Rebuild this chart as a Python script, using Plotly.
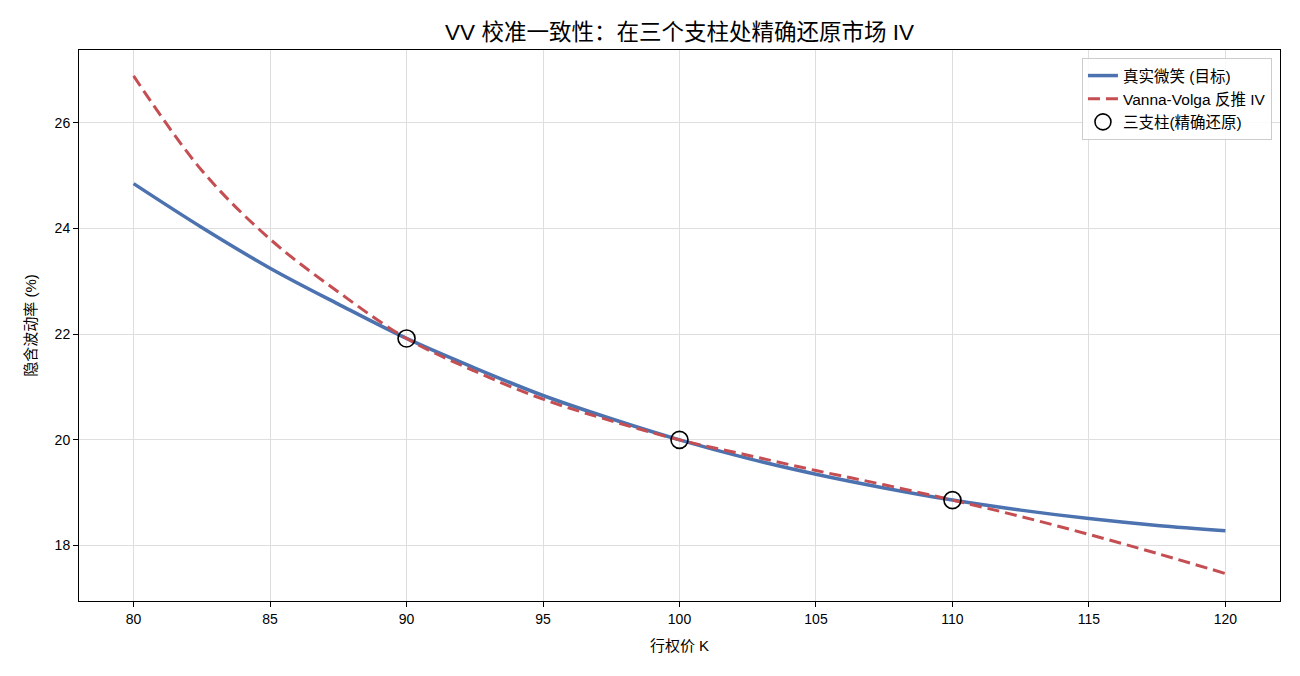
import plotly.graph_objects as go

strikes = [80, 82.5, 85, 87.5, 90, 92.5, 95, 97.5, 100, 102.5, 105, 107.5, 110, 112.5, 115, 117.5, 120]
true_smile = [24.85, 24.02, 23.25, 22.57, 21.92, 21.36, 20.84, 20.40, 20.0, 19.65, 19.35, 19.09, 18.86, 18.67, 18.51, 18.38, 18.28]
vv_iv = [26.89, 25.10, 23.80, 22.80, 21.92, 21.30, 20.77, 20.36, 20.0, 19.71, 19.42, 19.15, 18.86, 18.55, 18.21, 17.85, 17.47]
pillar_k = [90, 100, 110]
pillar_iv = [21.92, 20.0, 18.86]

FONT = "Liberation Sans, Arial, Noto Sans CJK SC, sans-serif"

fig = go.Figure()
fig.add_trace(go.Scatter(x=strikes, y=true_smile, mode="lines", name="真实微笑 (目标)",
                         line=dict(color="#4C72B0", width=3.5, shape="spline", smoothing=1.0)))
fig.add_trace(go.Scatter(x=strikes, y=vv_iv, mode="lines", name="Vanna-Volga 反推 IV",
                         line=dict(color="#C44E52", width=3, dash="12px,6px", shape="spline", smoothing=1.0)))
fig.add_trace(go.Scatter(x=pillar_k, y=pillar_iv, mode="markers", name="三支柱(精确还原)",
                         marker=dict(symbol="circle-open", size=17, color="black",
                                     line=dict(color="black", width=1.6))))

axis_common = dict(showline=True, linecolor="black", linewidth=1, mirror=True,
                   ticks="outside", ticklen=5, tickcolor="black", tickwidth=1,
                   showgrid=True, gridcolor="#dedede", gridwidth=1, zeroline=False,
                   tickfont=dict(size=14, color="black", family=FONT))

fig.update_layout(
    width=1300, height=676,
    paper_bgcolor="white", plot_bgcolor="white",
    margin=dict(l=79, r=20, t=50, b=75),
    font=dict(family=FONT, color="black"),
    title=dict(text="VV 校准一致性：在三个支柱处精确还原市场 IV", x=0.5227, xanchor="center",
               y=0.953, yanchor="middle", font=dict(size=22.5, color="black", family=FONT)),
    xaxis=dict(range=[78, 122], tickvals=[80, 85, 90, 95, 100, 105, 110, 115, 120],
               title=dict(text="行权价 K", font=dict(size=15, family=FONT), standoff=14),
               **axis_common),
    yaxis=dict(range=[16.95, 27.38], tickvals=[18, 20, 22, 24, 26],
               title=dict(text="隐含波动率 (%)", font=dict(size=15, family=FONT), standoff=14),
               **axis_common),
    legend=dict(x=0.9933, y=0.9855, xanchor="right", yanchor="top",
                bgcolor="rgba(255,255,255,0.85)", bordercolor="#cccccc", borderwidth=1,
                font=dict(size=15.5, family=FONT, color="black"), tracegroupgap=2),
    showlegend=True,
)

fig.write_html("out.html")
